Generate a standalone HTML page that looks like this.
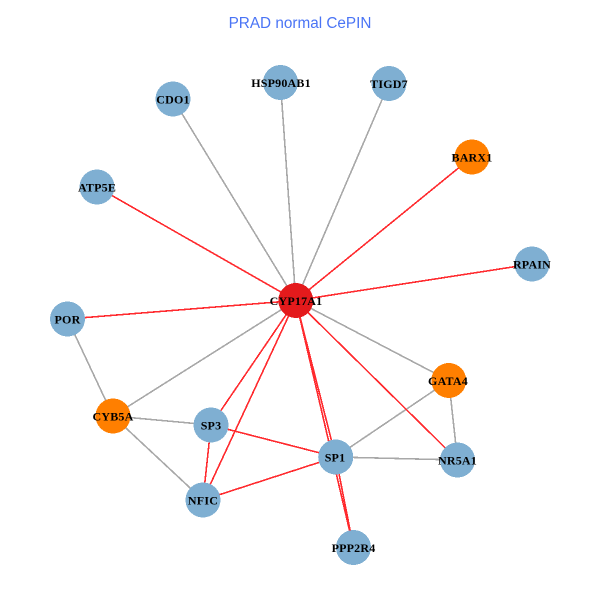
<!DOCTYPE html>
<html><head><meta charset="utf-8"><style>
html,body{margin:0;padding:0;background:#fff}
svg{display:block}
.e line{stroke-width:1.6;shape-rendering:crispEdges}
.g line{stroke:#a8a8a8}
.r line{stroke:#ff2a2e}
circle{shape-rendering:crispEdges}
.b{fill:#7fafd2}.o{fill:#ff7f00}
text.l{font-family:"Liberation Serif",serif;font-weight:bold;font-size:12px;text-anchor:middle;fill:#000;letter-spacing:.2px}
</style></head><body>
<svg width="600" height="600" viewBox="0 0 600 600" xmlns="http://www.w3.org/2000/svg">
<text x="300" y="28" text-anchor="middle" font-family="'Liberation Sans',sans-serif" font-size="15.3" fill="#4a74f5">PRAD normal CePIN</text>
<g class="e g">
<line x1="295.8" y1="300.5" x2="173" y2="99"/>
<line x1="295.8" y1="300.5" x2="280.5" y2="82.5"/>
<line x1="295.8" y1="300.5" x2="389" y2="83.5"/>
<line x1="295.8" y1="300.5" x2="113" y2="416"/>
<line x1="295.8" y1="300.5" x2="448.8" y2="380.5"/>
<line x1="67.5" y1="319" x2="113" y2="416"/>
<line x1="113" y1="416" x2="211" y2="425"/>
<line x1="113" y1="416" x2="203" y2="500"/>
<line x1="335.7" y1="457" x2="448.8" y2="380.5"/>
<line x1="335.7" y1="457" x2="457.5" y2="460"/>
<line x1="448.8" y1="380.5" x2="457.5" y2="460"/>
</g>
<g class="e r">
<line x1="295.8" y1="300.5" x2="97" y2="187"/>
<line x1="295.8" y1="300.5" x2="472" y2="157"/>
<line x1="295.8" y1="300.5" x2="532" y2="264"/>
<line x1="295.8" y1="300.5" x2="67.5" y2="319"/>
<line x1="295.8" y1="300.5" x2="211" y2="425"/>
<line x1="295.8" y1="300.5" x2="203" y2="500"/>
<line x1="295.8" y1="300.5" x2="335.7" y2="457"/>
<line x1="295.8" y1="300.5" x2="353.5" y2="547.5"/>
<line x1="295.8" y1="300.5" x2="457.5" y2="460"/>
<line x1="211" y1="425" x2="203" y2="500"/>
<line x1="211" y1="425" x2="335.7" y2="457"/>
<line x1="203" y1="500" x2="335.7" y2="457"/>
<line x1="335.7" y1="457" x2="353.5" y2="547.5"/>
</g>
<circle class="b" cx="173" cy="99" r="17.5"/>
<circle class="b" cx="280.5" cy="82.5" r="17.5"/>
<circle class="b" cx="389" cy="83.5" r="17.5"/>
<circle class="o" cx="472" cy="157" r="17.5"/>
<circle class="b" cx="97" cy="187" r="17.5"/>
<circle class="b" cx="532" cy="264" r="17.5"/>
<circle fill="#e41a1c" cx="295.8" cy="300.5" r="17.5"/>
<circle class="b" cx="67.5" cy="319" r="17.5"/>
<circle class="o" cx="448.8" cy="380.5" r="17.5"/>
<circle class="o" cx="113" cy="416" r="17.5"/>
<circle class="b" cx="211" cy="425" r="17.5"/>
<circle class="b" cx="335.7" cy="457" r="17.5"/>
<circle class="b" cx="457.5" cy="460" r="17.5"/>
<circle class="b" cx="203" cy="500" r="17.5"/>
<circle class="b" cx="353.5" cy="547.5" r="17.5"/>
<text class="l" x="173" y="103.5">CDO1</text>
<text class="l" x="281" y="87">HSP90AB1</text>
<text class="l" x="389" y="88">TIGD7</text>
<text class="l" x="472" y="161.5">BARX1</text>
<text class="l" x="97" y="191.5">ATP5E</text>
<text class="l" x="532" y="268.5">RPAIN</text>
<text class="l" x="296" y="305">CYP17A1</text>
<text class="l" x="67.5" y="323.5">POR</text>
<text class="l" x="448" y="385">GATA4</text>
<text class="l" x="113" y="420.5">CYB5A</text>
<text class="l" x="211" y="429.5">SP3</text>
<text class="l" x="335" y="461.5">SP1</text>
<text class="l" x="457.5" y="464.5">NR5A1</text>
<text class="l" x="203" y="504.5">NFIC</text>
<text class="l" x="353.5" y="552">PPP2R4</text>
</svg>
</body></html>
